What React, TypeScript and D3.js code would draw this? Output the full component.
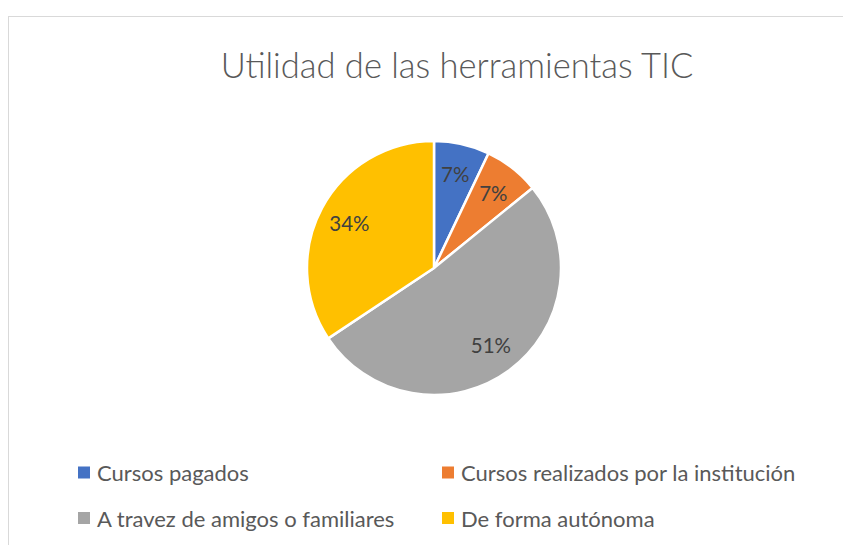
import React, { useEffect, useRef } from 'react';
import * as d3 from 'd3';

const categories = [
  'Cursos pagados',
  'Cursos realizados por la institución',
  'A travez de amigos o familiares',
  'De forma autónoma',
];
const values = [7, 7, 51, 34];
const colors = ['#4472C4', '#ED7D31', '#A5A5A5', '#FFC000'];
const title = 'Utilidad de las herramientas TIC';

const App = () => {
  const svgRef = useRef<SVGSVGElement>(null);

  useEffect(() => {
    const svg = d3.select(svgRef.current);
    svg.selectAll('*').remove();

    const width = 843;
    const height = 545;
    const cx = 434;
    const cy = 268;
    const radius = 127;
    const font = 'Lato, "Open Sans", sans-serif';

    // chart frame
    svg.append('rect')
      .attr('x', 8.5).attr('y', 16.5)
      .attr('width', width).attr('height', height)
      .attr('fill', '#fff')
      .attr('stroke', '#d9d9d9');

    svg.append('text')
      .attr('x', 457).attr('y', 78)
      .attr('text-anchor', 'middle')
      .attr('font-family', font)
      .attr('font-weight', 300)
      .attr('font-size', 34.5)
      .attr('fill', '#595959')
      .text(title);

    const pie = d3.pie<number>().sort(null).value(d => d);
    const arcs = pie(values);
    const arc = d3.arc<d3.PieArcDatum<number>>().innerRadius(0).outerRadius(radius);
    const labelArc = d3.arc<d3.PieArcDatum<number>>().innerRadius(96).outerRadius(96);

    const g = svg.append('g').attr('transform', `translate(${cx},${cy})`);
    g.selectAll('path')
      .data(arcs)
      .join('path')
      .attr('d', arc)
      .attr('fill', (d, i) => colors[i])
      .attr('stroke', '#fff')
      .attr('stroke-width', 2.5)
      .attr('stroke-linejoin', 'round');

    g.selectAll('text')
      .data(arcs)
      .join('text')
      .attr('transform', d => `translate(${labelArc.centroid(d)})`)
      .attr('text-anchor', 'middle')
      .attr('dominant-baseline', 'central')
      .attr('font-family', font)
      .attr('font-size', 20.5)
      .attr('fill', '#404040')
      .text(d => `${d.data}%`);

    // legend, two columns
    const colX = [78, 442];
    const rowY = [472.5, 518];
    const legend = svg.append('g')
      .selectAll('g')
      .data(categories)
      .join('g')
      .attr('transform', (d, i) => `translate(${colX[i % 2]},${rowY[Math.floor(i / 2)]})`);
    legend.append('rect')
      .attr('x', 0).attr('y', -6)
      .attr('width', 12).attr('height', 12)
      .attr('fill', (d, i) => colors[i]);
    legend.append('text')
      .attr('x', 19)
      .attr('dominant-baseline', 'central')
      .attr('font-family', font)
      .attr('font-size', 22)
      .attr('fill', '#595959')
      .text(d => d);
  }, []);

  return (
    <div style={{ position: 'fixed', left: 0, top: 0 }}>
      <svg ref={svgRef} width={843} height={545} style={{ display: 'block' }}></svg>
    </div>
  );
};

export default App;
